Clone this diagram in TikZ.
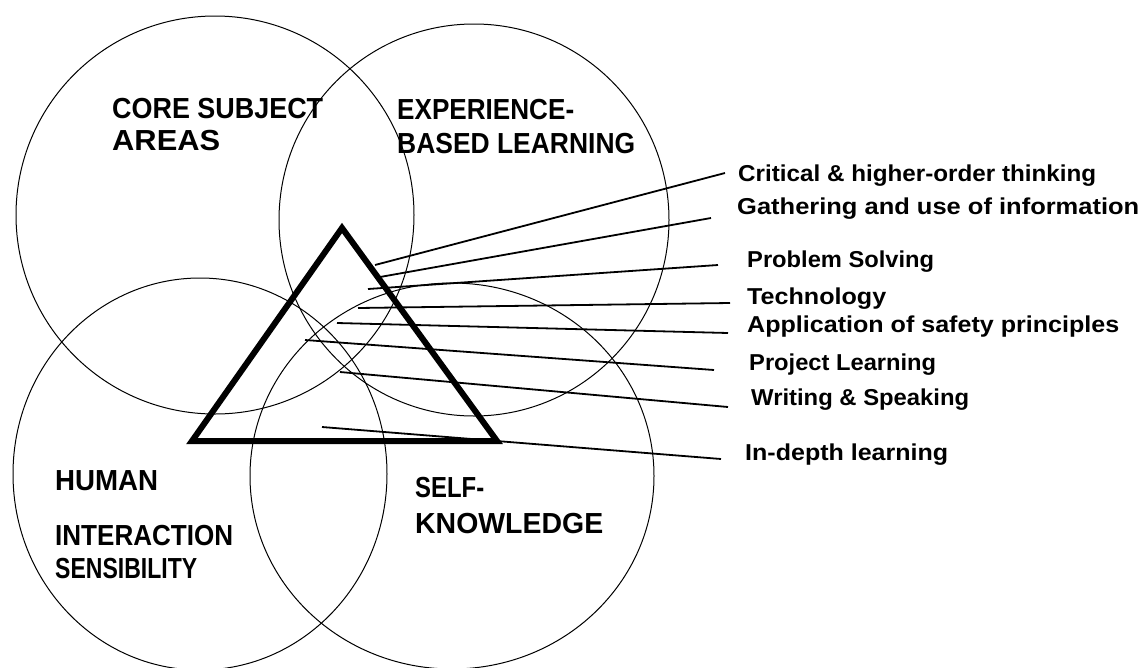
\documentclass[tikz,border=0pt]{standalone}
\usepackage{fontspec}
\setmainfont{Liberation Sans}
\usepackage{graphicx}
\usetikzlibrary{shapes.geometric}
\newcommand{\fitw}[2]{\resizebox{#1pt}{\height}{#2}}
\begin{document}
\begin{tikzpicture}[x=1pt,y=-1pt,
  ring/.style={draw, ellipse, line width=1pt, inner sep=0pt, outer sep=0pt},
  leader/.style={line width=1.8pt},
  biglab/.style={anchor=base west, inner sep=0pt, font=\bfseries\fontsize{29}{34}\selectfont},
  smalllab/.style={anchor=base west, inner sep=0pt, font=\bfseries\fontsize{23}{27}\selectfont}]
\fill[white] (0,0) rectangle (1143,667);
\useasboundingbox (0,0) rectangle (1143,667);
% circles
\node[ring, minimum width=398pt, minimum height=398pt] (core) at (215,215) {};
\node[ring, minimum width=390pt, minimum height=392pt] (exp) at (474,220) {};
\node[ring, minimum width=374pt, minimum height=392pt] (hum) at (200,474) {};
\node[ring, minimum width=404pt, minimum height=386pt] (self) at (452,476) {};
% triangle
\coordinate (ta) at (342,228);
\coordinate (tl) at (192,441);
\coordinate (tr) at (497,441);
\draw[line width=6pt] (ta) -- (tl) -- (tr) -- cycle;
% circle labels
\node[biglab] (l1a) at (112,118) {\fitw{211}{CORE SUBJECT}};
\node[biglab] (l1b) at (112,150) {\fitw{108}{AREAS}};
\node[biglab] (l2a) at (397,119) {\fitw{177}{EXPERIENCE-}};
\node[biglab] (l2b) at (397,153) {\fitw{238}{BASED LEARNING}};
\node[biglab] (l3a) at (55,490) {\fitw{103}{HUMAN}};
\node[biglab] (l3b) at (55,545) {\fitw{178}{INTERACTION}};
\node[biglab] (l3c) at (55,578) {\fitw{142}{SENSIBILITY}};
\node[biglab] (l4a) at (415,497) {\fitw{69}{SELF-}};
\node[biglab] (l4b) at (415,533) {\fitw{188}{KNOWLEDGE}};
% leader labels
\node[smalllab] (t1) at (738,181) {\fitw{358}{Critical \& higher-order thinking}};
\node[smalllab] (t2) at (737,214) {\fitw{402}{Gathering and use of information}};
\node[smalllab] (t3) at (747,267) {\fitw{187}{Problem Solving}};
\node[smalllab] (t4) at (747,304) {\fitw{139}{Technology}};
\node[smalllab] (t5) at (747,332) {\fitw{372}{Application of safety principles}};
\node[smalllab] (t6) at (749,370) {\fitw{187}{Project Learning}};
\node[smalllab] (t7) at (751,405) {\fitw{218}{Writing \& Speaking}};
\node[smalllab] (t8) at (745,460) {\fitw{203}{In-depth learning}};
% leader lines
\coordinate (s1) at (375,265); \coordinate (e1) at (725,173);
\coordinate (s2) at (380,277); \coordinate (e2) at (711,218);
\coordinate (s3) at (368,289); \coordinate (e3) at (718,265);
\coordinate (s4) at (358,308); \coordinate (e4) at (730,303);
\coordinate (s5) at (337,323); \coordinate (e5) at (728,333);
\coordinate (s6) at (305,340); \coordinate (e6) at (714,370);
\coordinate (s7) at (340,372); \coordinate (e7) at (728,407);
\coordinate (s8) at (322,427); \coordinate (e8) at (721,459);
\foreach \i in {1,...,8} { \draw[leader] (s\i) -- (e\i); }
\end{tikzpicture}
\end{document}
